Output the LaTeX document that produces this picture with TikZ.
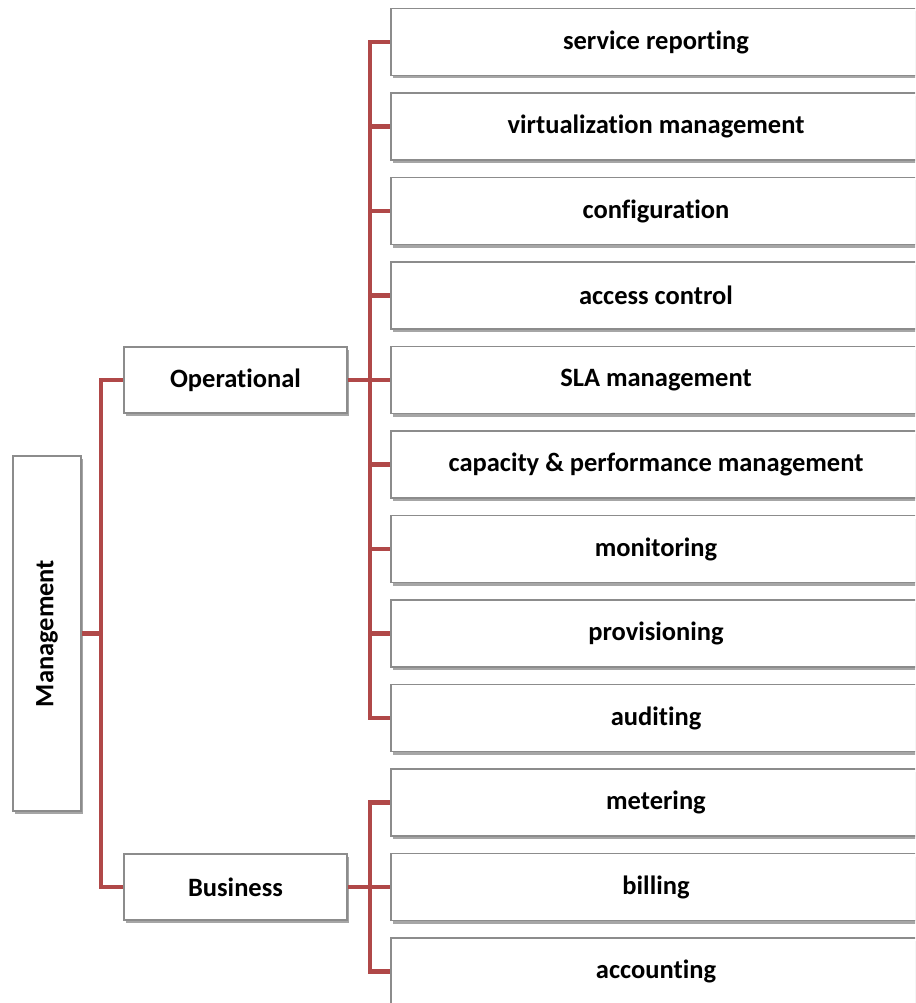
\documentclass[tikz,border=0pt]{standalone}
\usepackage{fontspec}
\setmainfont{Carlito}[Ligatures=CommonOff]
\usetikzlibrary{shadows}
\definecolor{conn}{HTML}{B04848}
\definecolor{bord}{HTML}{8C8C8C}
\begin{document}
\begin{tikzpicture}[x=1pt,y=-1pt,
  box/.style={draw=bord, line width=1.4pt, fill=white, inner sep=0pt,
    font=\fontsize{26.5}{30}\selectfont\bfseries, align=center,
    drop shadow={shadow xshift=2pt, shadow yshift=-3pt, opacity=0.35, fill=black}},
  rbox/.style={box, minimum width=530pt, minimum height=67pt},
  mbox/.style={box, minimum width=223pt, minimum height=66pt},
  link/.style={draw=conn, line width=4.5pt, line join=miter}]
\useasboundingbox (0,0) rectangle (915,1003);
\clip (0,0) rectangle (915,1003);
\node[box, minimum width=68pt, minimum height=355pt] (mg) at (47,633.5) {\rotatebox{90}{Management}};
\node[mbox] (op) at (235.5,380) {Operational};
\node[mbox] (bs) at (235.5,887) {Business};
\foreach \n/\y/\t in {r1/42/service reporting, r2/126.5/virtualization management, r3/211/configuration, r4/295.5/access control, r5/380/SLA management, r6/464.5/capacity \& performance management, r7/549/monitoring, r8/633.5/provisioning, r9/718/auditing, r10/802.5/metering, r11/887/billing, r12/971.5/accounting}
  \node[rbox] (\n) at (656,\y) {\t};
\coordinate (mj) at (101,633.5);
\coordinate (oj) at (370,380);
\coordinate (bj) at (370,887);
\draw[link] (mg.east) -- (mj);
\draw[link] (mj) |- (op.west);
\draw[link] (mj) |- (bs.west);
\draw[link] (op.east) -- (oj);
\foreach \n in {r1,r2,r3,r4,r5,r6,r7,r8,r9}
  \draw[link] (oj) |- (\n.west);
\draw[link] (bs.east) -- (bj);
\foreach \n in {r10,r11,r12}
  \draw[link] (bj) |- (\n.west);
\end{tikzpicture}
\end{document}
